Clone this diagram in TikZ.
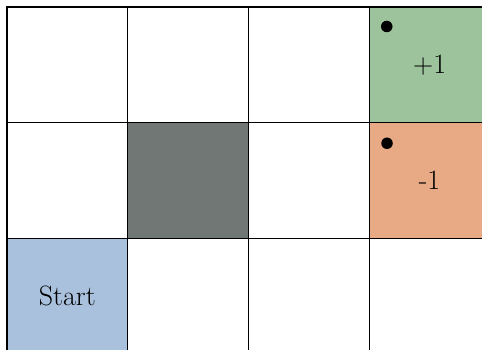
\documentclass[tikz,border=0pt]{standalone}
\definecolor{goalgreen}{RGB}{157,195,156}
\definecolor{pitorange}{RGB}{232,170,132}
\definecolor{wallgray}{RGB}{113,119,117}
\definecolor{startblue}{RGB}{169,193,220}
\tikzset{
  cell/.style={fill=white, minimum width=120.75pt, minimum height=115.75pt, inner sep=0pt, outer sep=0pt, font=\fontsize{28}{30}\selectfont},
  border/.style={draw=black, line width=1.4pt},
  dotmark/.style={circle, fill=black, minimum size=11.5pt, inner sep=0pt}
}
\begin{document}
\begin{tikzpicture}[x=1pt,y=-1pt]
\useasboundingbox (0,0) rectangle (482,350);
% row 1
\node[cell] (c11) at (67.375,64.875) {};
\node[cell] (c12) at (188.125,64.875) {};
\node[cell] (c13) at (308.875,64.875) {};
\node[cell, fill=goalgreen] (c14) at (429.625,64.875) {+1};
% row 2
\node[cell] (c21) at (67.375,180.625) {};
\node[cell, fill=wallgray] (c22) at (188.125,180.625) {};
\node[cell] (c23) at (308.875,180.625) {};
\node[cell, fill=pitorange] (c24) at (429.625,180.625) {-1};
% row 3
\node[cell, fill=startblue] (c31) at (67.375,296.375) {Start};
\node[cell] (c32) at (188.125,296.375) {};
\node[cell] (c33) at (308.875,296.375) {};
\node[cell] (c34) at (429.625,296.375) {};
% borders on top of all fills
\foreach \c in {c11,c12,c13,c14,c21,c22,c23,c24,c31,c32,c33,c34}
  \draw[border] (\c.north west) rectangle (\c.south east);
% dots
\node[dotmark] (d1) at ([shift={(17.5,19.5)}]c14.north west) {};
\node[dotmark] (d2) at ([shift={(17.75,20.5)}]c24.north west) {};
\end{tikzpicture}
\end{document}
